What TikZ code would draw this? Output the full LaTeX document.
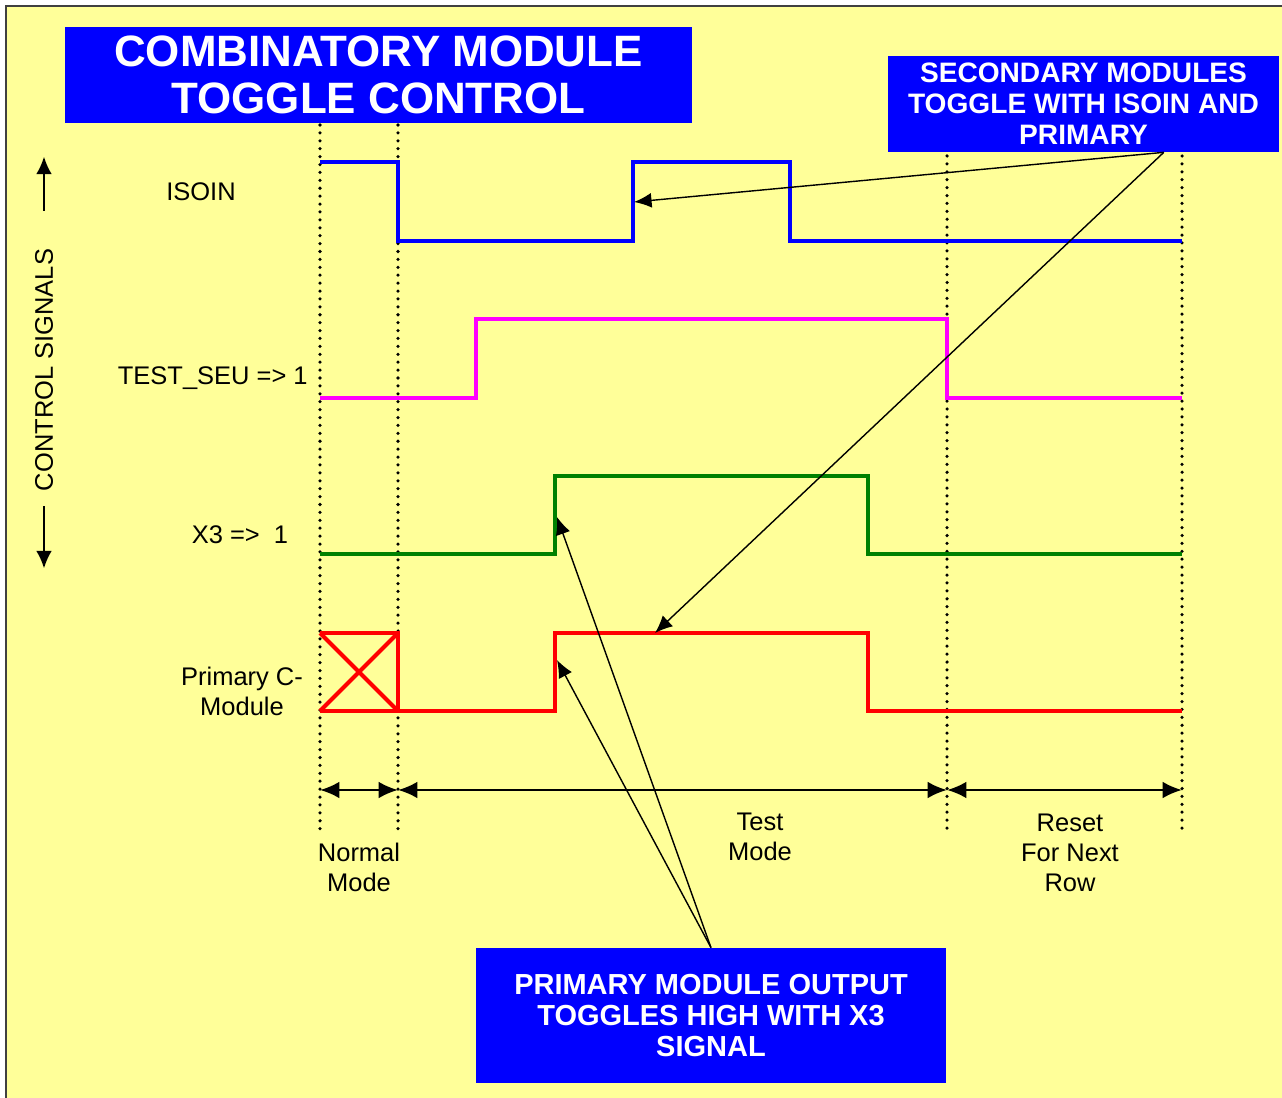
\documentclass[tikz,border=0pt]{standalone}
\usepackage{fontspec}
\setmainfont{Liberation Sans}
\usetikzlibrary{arrows.meta,calc,positioning}

\definecolor{bgyellow}{HTML}{FFFF99}
\definecolor{boxblue}{HTML}{0000FF}
\definecolor{wavegreen}{HTML}{008000}
\definecolor{wavepink}{HTML}{FF00FF}

\tikzset{
  wave/.style={line width=2.3pt, line join=miter},
  guide/.style={line width=2pt, line cap=round, dash pattern=on 0pt off 4.5pt},
  note/.style={fill=boxblue, text=white, align=center, inner sep=0pt},
  pointer/.style={line width=0.8pt, -{Latex[length=10pt,width=8.5pt]}},
  span/.style={line width=1.4pt, {Latex[length=11pt,width=9.5pt]}-{Latex[length=11pt,width=9.5pt]}},
  lead/.style={line width=1.2pt, -{Latex[length=10pt,width=9pt]}},
  siglabel/.style={font=\fontsize{14.5}{17}\selectfont, align=center},
}

\begin{document}
\begin{tikzpicture}[x=0.02cm,y=-0.02cm]
  \useasboundingbox (0,0) rectangle (1282,1098);
  \fill[white] (0,0) rectangle (1282,1098);
  \fill[bgyellow] (6,6) rectangle (1282,1098);
  \draw[gray!50!black, line width=1.2pt] (6,1098) -- (6,6) -- (1282,6);

  % phase boundaries
  \foreach \x/\top in {320/125, 398/125, 947/156, 1182/156}
    \draw[guide] (\x,\top) -- (\x,830);

  % waveforms
  \draw[wave, boxblue] (320,162) -- (398,162) -- (398,241) -- (633,241) -- (633,162)
    -- (790,162) -- (790,241) -- (1182,241);
  \draw[wave, wavepink] (320,398) -- (476,398) -- (476,319) -- (947,319) -- (947,398) -- (1182,398);
  \draw[wave, wavegreen] (320,554) -- (555,554) -- (555,476) -- (868,476) -- (868,554) -- (1182,554);
  \draw[wave, red] (320,633) -- (398,633) -- (398,711) -- (320,711);
  \draw[wave, red] (320,633) -- (398,711) (320,711) -- (398,633);
  \draw[wave, red] (398,711) -- (555,711) -- (555,633) -- (868,633) -- (868,711) -- (1182,711);

  \coordinate (isorise) at (634,202);
  \coordinate (x3rise) at (557,517);
  \coordinate (pmrise) at (557,660);
  \coordinate (pmtop) at (655,633);

  % signal names
  \node[siglabel] (isoin) at (201,192) {ISOIN};
  \node[siglabel, anchor=east, inner sep=0pt] (testseu) at (308,378) {TEST\_SEU => 1};
  \node[siglabel] (x3) at (240,535) {X3 =>\ \ 1};
  \node[siglabel] (pcm) at (242,691) {Primary C-\\Module};

  \node[siglabel, rotate=90, inner sep=0pt] (ctrl) at (44,370) {CONTROL SIGNALS};
  \draw[lead] (ctrl.east) ++(0,-38) -- ++(0,-54);
  \draw[lead] (ctrl.west) ++(0,15) -- ++(0,62);

  % test phases
  \foreach \n/\x in {0/320, 1/398, 2/947, 3/1182}
    \coordinate (m\n) at (\x,790);
  \draw[span] (m0) -- (m1);
  \draw[span] (m1) -- (m2);
  \draw[span] (m2) -- (m3);

  \node[siglabel] (normal) at (359,867) {Normal\\Mode};
  \node[siglabel] (test) at (760,837) {Test\\Mode};
  \node[siglabel] (reset) at (1070,853) {Reset\\For Next\\Row};

  % notes
  \node[note, minimum width=12.54cm, minimum height=1.92cm,
    font=\bfseries\fontsize{25}{27}\selectfont] (title) at (378.5,75)
    {COMBINATORY MODULE\\TOGGLE CONTROL};
  \node[note, minimum width=7.82cm, minimum height=1.92cm,
    font=\bfseries\fontsize{16}{17.6}\selectfont] (secnote) at (1083.5,104)
    {SECONDARY MODULES\\TOGGLE WITH ISOIN AND\\PRIMARY};
  \node[note, minimum width=9.4cm, minimum height=2.7cm,
    font=\bfseries\fontsize{16.5}{17.6}\selectfont] (pmnote) at (711,1015.5)
    {PRIMARY MODULE OUTPUT\\TOGGLES HIGH WITH X3\\SIGNAL};

  \coordinate (secfoot) at ($(secnote.south)!0.41!(secnote.south east)$);
  \draw[pointer] (secfoot) -- (isorise);
  \draw[pointer] (secfoot) -- (pmtop);
  \draw[pointer] (pmnote.north) -- (x3rise);
  \draw[pointer] (pmnote.north) -- (pmrise);
\end{tikzpicture}
\end{document}
